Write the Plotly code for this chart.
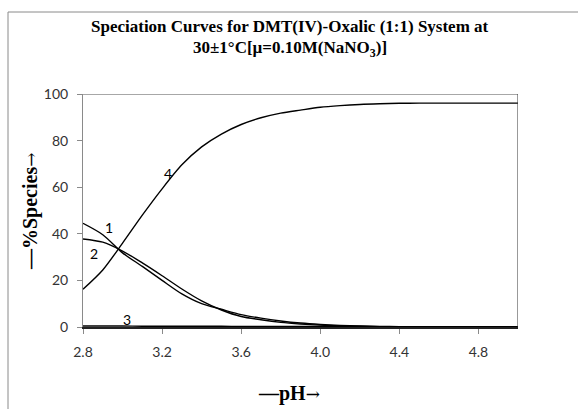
import plotly.graph_objects as go

# pH grid and percentage of each species
ph = [2.8, 2.9, 3.0, 3.1, 3.2, 3.3, 3.4, 3.5, 3.6, 3.7, 3.8, 3.9, 4.0,
      4.1, 4.2, 4.3, 4.4, 4.5, 4.6, 4.7, 4.8, 4.9, 5.0]

species_1 = [44.5, 39.6, 31.8, 26.0, 20.0, 14.2, 10.0, 7.6, 5.3, 3.8, 2.6, 1.7, 1.1,
             0.7, 0.45, 0.28, 0.17, 0.1, 0.05, None, None, None, None]
species_2 = [37.8, 36.4, 32.6, 27.5, 22.0, 16.3, 11.2, 7.3, 4.5, 3.1, 2.0, 1.3, 0.8,
             0.5, 0.3, 0.18, 0.1, 0.05, 0.02, None, None, None, None]
species_3 = [0.4, 0.4, 0.4, 0.35, 0.35, 0.3, 0.3, 0.3, 0.25, 0.25, 0.2, 0.2, 0.2,
             0.2, 0.15, 0.15, 0.15, 0.15, 0.1, 0.1, 0.1, 0.1, 0.1]
species_4 = [16.2, 24.5, 36.0, 48.0, 59.3, 69.6, 77.3, 82.8, 86.9, 89.8, 91.8, 93.1, 94.3,
             95.0, 95.5, 95.8, 96.0, 96.1, 96.1, 96.1, 96.1, 96.1, 96.1]

curve_labels = ["1", "2", "3", "4"]
label_pos = [(2.931, 42.8), (2.857, 31.6), (3.022, 3.4), (3.231, 65.7)]

x_ticks = [2.8, 3.2, 3.6, 4.0, 4.4, 4.8]
x_tick_text = ["2.8", "3.2", "3.6", "4.0", "4.4", "4.8"]
y_ticks = [0, 20, 40, 60, 80, 100]

W, H = 578, 409
L, R, T, B = 83, 518, 94, 327


def px(xp, yp):
    """Pixel position -> paper coordinates."""
    return (xp - L) / (R - L), (B - yp) / (B - T)


fig = go.Figure()
for ys in (species_1, species_2, species_3, species_4):
    fig.add_trace(go.Scatter(x=ph, y=ys, mode="lines",
                             line=dict(color="black", width=1.4, shape="spline", smoothing=0.8),
                             connectgaps=False, showlegend=False, hoverinfo="skip"))

for txt, (xv, yv) in zip(curve_labels, label_pos):
    fig.add_annotation(x=xv, y=yv, text=txt, showarrow=False,
                       xanchor="center", yanchor="middle",
                       font=dict(family="Lato", size=14, color="black"))

serif = "Liberation Serif"
arrow = '<span style="font-family:\'DejaVu Serif\';font-size:17px;font-weight:normal">→</span>'
dash = "—"


def paper_text(xp, yp, text, size, angle=0):
    tx, ty = px(xp, yp)
    fig.add_annotation(x=tx, y=ty, xref="paper", yref="paper", showarrow=False,
                       xanchor="center", yanchor="middle", textangle=angle, text=text,
                       font=dict(family=serif, size=size, color="black"))


paper_text(290, 27, "<b>Speciation Curves for DMT(IV)-Oxalic (1:1) System at</b>", 17)
paper_text(290, 49, "<b>30±1°C[µ=0.10M(NaNO<sub>3</sub>)]</b>", 17)
paper_text(30, 212, "<b>" + dash + "%Species</b>" + arrow, 20, angle=-90)
paper_text(289, 393, "<b>" + dash + "pH</b>" + arrow, 20)

# outer chart border (left and top edges visible)
bx0, by0 = px(8, 12)
bx1, by1 = px(640, 460)
fig.add_shape(type="rect", xref="paper", yref="paper", x0=bx0, y0=by1, x1=bx1, y1=by0,
              line=dict(color="#8a8a8a", width=1), layer="below")
# top gridline and right frame of the plot area
fig.add_shape(type="line", xref="x", yref="y", x0=2.8, x1=5.0, y0=100, y1=100,
              line=dict(color="#8a8a8a", width=1.5), layer="below")
fig.add_shape(type="line", xref="x", yref="y", x0=5.0, x1=5.0, y0=0, y1=100,
              line=dict(color="#333333", width=1))

fig.update_xaxes(range=[2.8, 5.0], tickvals=x_ticks, ticktext=x_tick_text,
                 showgrid=False, zeroline=False, showline=True, linecolor="#222", linewidth=1.5,
                 ticks="outside", ticklen=5, tickcolor="#8a8a8a", ticklabelstandoff=6,
                 tickfont=dict(family="Lato", size=14, color="#333"))
fig.update_yaxes(range=[0, 100], tickvals=y_ticks,
                 showgrid=False, zeroline=False, showline=True, linecolor="#8a8a8a", linewidth=1,
                 ticks="outside", ticklen=5, tickcolor="#8a8a8a", ticklabelstandoff=6,
                 tickfont=dict(family="Lato", size=14, color="#333"))
fig.update_layout(width=W, height=H, margin=dict(l=L, r=W - R, t=T, b=H - B),
                  paper_bgcolor="white", plot_bgcolor="white")

fig.write_html("out.html")
